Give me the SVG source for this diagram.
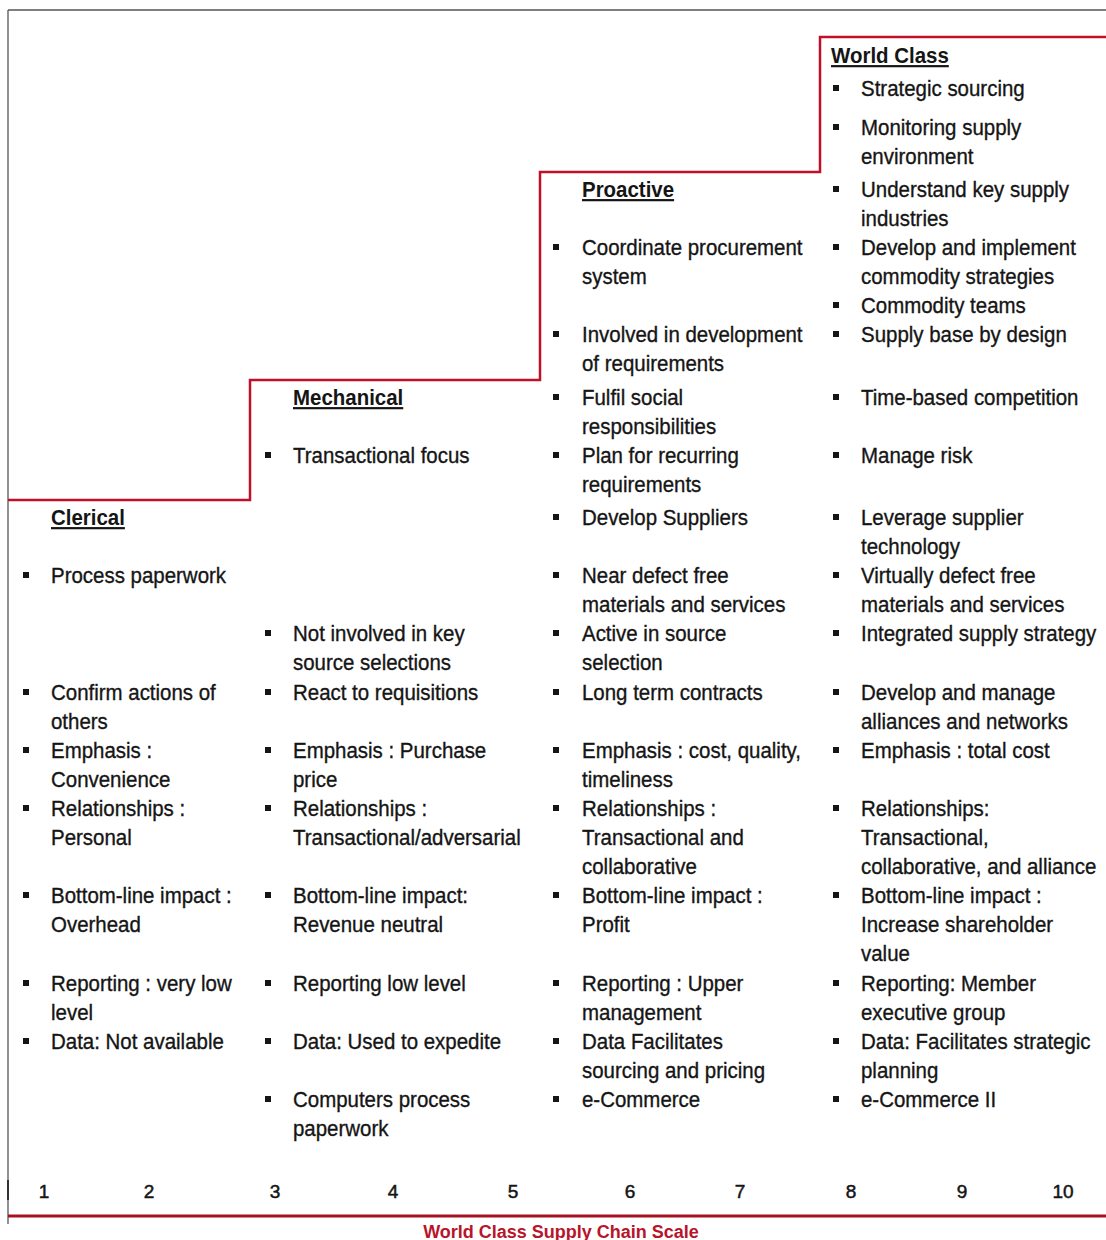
<svg xmlns="http://www.w3.org/2000/svg" width="1106" height="1240" viewBox="0 0 1106 1240">
  <style>
    .t { font-family: "Liberation Sans", Arial, sans-serif; font-size: 22px; fill: #151515; stroke: #151515; stroke-width: 0.35; }
    .h { font-family: "Liberation Sans", Arial, sans-serif; font-size: 22px; font-weight: bold; fill: #151515; text-decoration: underline; }
    .num { font-family: "Liberation Sans", Arial, sans-serif; font-size: 19px; fill: #151515; stroke: #151515; stroke-width: 0.5; text-anchor: middle; }
    .cap { font-family: "Liberation Sans", Arial, sans-serif; font-size: 18px; font-weight: bold; fill: #b8142a; text-anchor: middle; }
    .b { fill: #151515; }
    .stair { fill: none; stroke: #c01028; stroke-width: 2.5; stroke-linejoin: miter; }
    .frame { fill: none; stroke: #555; stroke-width: 1.3; }
  </style>

  <rect width="1106" height="1240" fill="#ffffff"/>

  <!-- frame, staircase and scale baseline -->
  <g id="connectors">
    <line class="frame" x1="8" y1="10" x2="1106" y2="10"/>
    <line class="frame" x1="8" y1="10" x2="8" y2="1224"/>
    <line x1="8" y1="1180" x2="8" y2="1200" stroke="#333" stroke-width="2"/>
    <polyline class="stair" points="8,500 250,500 250,380 540,380 540,172 820,172 820,37 1106,37"/>
    <line x1="8" y1="1216" x2="1106" y2="1216" stroke="#a8101e" stroke-width="3"/>
  </g>

  <!-- Clerical level -->
  <g id="clerical">
    <g class="b">
      <rect x="23" y="572" width="6" height="6"/>
      <rect x="23" y="689" width="6" height="6"/>
      <rect x="23" y="747" width="6" height="6"/>
      <rect x="23" y="805" width="6" height="6"/>
      <rect x="23" y="892" width="6" height="6"/>
      <rect x="23" y="980" width="6" height="6"/>
      <rect x="23" y="1038" width="6" height="6"/>
    </g>
    <g transform="translate(51 0) scale(0.93 1)">
      <text class="h" x="0" y="525">Clerical</text>
      <text class="t">
        <tspan x="0" y="583">Process paperwork</tspan>
        <tspan x="0" y="700">Confirm actions of</tspan>
        <tspan x="0" y="729">others</tspan>
        <tspan x="0" y="758">Emphasis :</tspan>
        <tspan x="0" y="787">Convenience</tspan>
        <tspan x="0" y="816">Relationships :</tspan>
        <tspan x="0" y="845">Personal</tspan>
        <tspan x="0" y="903">Bottom-line impact :</tspan>
        <tspan x="0" y="932">Overhead</tspan>
        <tspan x="0" y="991">Reporting : very low</tspan>
        <tspan x="0" y="1020">level</tspan>
        <tspan x="0" y="1049">Data: Not available</tspan>
      </text>
    </g>
  </g>

  <!-- Mechanical level -->
  <g id="mechanical">
    <g class="b">
      <rect x="265" y="452" width="6" height="6"/>
      <rect x="265" y="630" width="6" height="6"/>
      <rect x="265" y="689" width="6" height="6"/>
      <rect x="265" y="747" width="6" height="6"/>
      <rect x="265" y="805" width="6" height="6"/>
      <rect x="265" y="892" width="6" height="6"/>
      <rect x="265" y="980" width="6" height="6"/>
      <rect x="265" y="1038" width="6" height="6"/>
      <rect x="265" y="1096" width="6" height="6"/>
    </g>
    <g transform="translate(293 0) scale(0.93 1)">
      <text class="h" x="0" y="405">Mechanical</text>
      <text class="t">
        <tspan x="0" y="463">Transactional focus</tspan>
        <tspan x="0" y="641">Not involved in key</tspan>
        <tspan x="0" y="670">source selections</tspan>
        <tspan x="0" y="700">React to requisitions</tspan>
        <tspan x="0" y="758">Emphasis : Purchase</tspan>
        <tspan x="0" y="787">price</tspan>
        <tspan x="0" y="816">Relationships :</tspan>
        <tspan x="0" y="845">Transactional/adversarial</tspan>
        <tspan x="0" y="903">Bottom-line impact:</tspan>
        <tspan x="0" y="932">Revenue neutral</tspan>
        <tspan x="0" y="991">Reporting low level</tspan>
        <tspan x="0" y="1049">Data: Used to expedite</tspan>
        <tspan x="0" y="1107">Computers process</tspan>
        <tspan x="0" y="1136">paperwork</tspan>
      </text>
    </g>
  </g>

  <!-- Proactive level -->
  <g id="proactive">
    <g class="b">
      <rect x="553" y="244" width="6" height="6"/>
      <rect x="553" y="331" width="6" height="6"/>
      <rect x="553" y="394" width="6" height="6"/>
      <rect x="553" y="452" width="6" height="6"/>
      <rect x="553" y="514" width="6" height="6"/>
      <rect x="553" y="572" width="6" height="6"/>
      <rect x="553" y="630" width="6" height="6"/>
      <rect x="553" y="689" width="6" height="6"/>
      <rect x="553" y="747" width="6" height="6"/>
      <rect x="553" y="805" width="6" height="6"/>
      <rect x="553" y="892" width="6" height="6"/>
      <rect x="553" y="980" width="6" height="6"/>
      <rect x="553" y="1038" width="6" height="6"/>
      <rect x="553" y="1096" width="6" height="6"/>
    </g>
    <g transform="translate(582 0) scale(0.93 1)">
      <text class="h" x="0" y="197">Proactive</text>
      <text class="t">
        <tspan x="0" y="255">Coordinate procurement</tspan>
        <tspan x="0" y="284">system</tspan>
        <tspan x="0" y="342">Involved in development</tspan>
        <tspan x="0" y="371">of requirements</tspan>
        <tspan x="0" y="405">Fulfil social</tspan>
        <tspan x="0" y="434">responsibilities</tspan>
        <tspan x="0" y="463">Plan for recurring</tspan>
        <tspan x="0" y="492">requirements</tspan>
        <tspan x="0" y="525">Develop Suppliers</tspan>
        <tspan x="0" y="583">Near defect free</tspan>
        <tspan x="0" y="612">materials and services</tspan>
        <tspan x="0" y="641">Active in source</tspan>
        <tspan x="0" y="670">selection</tspan>
        <tspan x="0" y="700">Long term contracts</tspan>
        <tspan x="0" y="758">Emphasis : cost, quality,</tspan>
        <tspan x="0" y="787">timeliness</tspan>
        <tspan x="0" y="816">Relationships :</tspan>
        <tspan x="0" y="845">Transactional and</tspan>
        <tspan x="0" y="874">collaborative</tspan>
        <tspan x="0" y="903">Bottom-line impact :</tspan>
        <tspan x="0" y="932">Profit</tspan>
        <tspan x="0" y="991">Reporting : Upper</tspan>
        <tspan x="0" y="1020">management</tspan>
        <tspan x="0" y="1049">Data Facilitates</tspan>
        <tspan x="0" y="1078">sourcing and pricing</tspan>
        <tspan x="0" y="1107">e-Commerce</tspan>
      </text>
    </g>
  </g>

  <!-- World Class level -->
  <g id="world-class">
    <g class="b">
      <rect x="833" y="85" width="6" height="6"/>
      <rect x="833" y="124" width="6" height="6"/>
      <rect x="833" y="186" width="6" height="6"/>
      <rect x="833" y="244" width="6" height="6"/>
      <rect x="833" y="302" width="6" height="6"/>
      <rect x="833" y="331" width="6" height="6"/>
      <rect x="833" y="394" width="6" height="6"/>
      <rect x="833" y="452" width="6" height="6"/>
      <rect x="833" y="514" width="6" height="6"/>
      <rect x="833" y="572" width="6" height="6"/>
      <rect x="833" y="630" width="6" height="6"/>
      <rect x="833" y="689" width="6" height="6"/>
      <rect x="833" y="747" width="6" height="6"/>
      <rect x="833" y="805" width="6" height="6"/>
      <rect x="833" y="892" width="6" height="6"/>
      <rect x="833" y="980" width="6" height="6"/>
      <rect x="833" y="1038" width="6" height="6"/>
      <rect x="833" y="1096" width="6" height="6"/>
    </g>
    <g transform="translate(831 0) scale(0.93 1)">
      <text class="h" x="0" y="63">World Class</text>
    </g>
    <g transform="translate(861 0) scale(0.93 1)">
      <text class="t">
        <tspan x="0" y="96">Strategic sourcing</tspan>
        <tspan x="0" y="135">Monitoring supply</tspan>
        <tspan x="0" y="164">environment</tspan>
        <tspan x="0" y="197">Understand key supply</tspan>
        <tspan x="0" y="226">industries</tspan>
        <tspan x="0" y="255">Develop and implement</tspan>
        <tspan x="0" y="284">commodity strategies</tspan>
        <tspan x="0" y="313">Commodity teams</tspan>
        <tspan x="0" y="342">Supply base by design</tspan>
        <tspan x="0" y="405">Time-based competition</tspan>
        <tspan x="0" y="463">Manage risk</tspan>
        <tspan x="0" y="525">Leverage supplier</tspan>
        <tspan x="0" y="554">technology</tspan>
        <tspan x="0" y="583">Virtually defect free</tspan>
        <tspan x="0" y="612">materials and services</tspan>
        <tspan x="0" y="641">Integrated supply strategy</tspan>
        <tspan x="0" y="700">Develop and manage</tspan>
        <tspan x="0" y="729">alliances and networks</tspan>
        <tspan x="0" y="758">Emphasis : total cost</tspan>
        <tspan x="0" y="816">Relationships:</tspan>
        <tspan x="0" y="845">Transactional,</tspan>
        <tspan x="0" y="874">collaborative, and alliance</tspan>
        <tspan x="0" y="903">Bottom-line impact :</tspan>
        <tspan x="0" y="932">Increase shareholder</tspan>
        <tspan x="0" y="961">value</tspan>
        <tspan x="0" y="991">Reporting: Member</tspan>
        <tspan x="0" y="1020">executive group</tspan>
        <tspan x="0" y="1049">Data: Facilitates strategic</tspan>
        <tspan x="0" y="1078">planning</tspan>
        <tspan x="0" y="1107">e-Commerce II</tspan>
      </text>
    </g>
  </g>

  <!-- 1 to 10 scale -->
  <g id="scale">
    <text class="num" x="44" y="1198">1</text>
    <text class="num" x="149" y="1198">2</text>
    <text class="num" x="275" y="1198">3</text>
    <text class="num" x="393" y="1198">4</text>
    <text class="num" x="513" y="1198">5</text>
    <text class="num" x="630" y="1198">6</text>
    <text class="num" x="740" y="1198">7</text>
    <text class="num" x="851" y="1198">8</text>
    <text class="num" x="962" y="1198">9</text>
    <text class="num" x="1063" y="1198">10</text>
    <text class="cap" x="561" y="1238">World Class Supply Chain Scale</text>
  </g>
</svg>
